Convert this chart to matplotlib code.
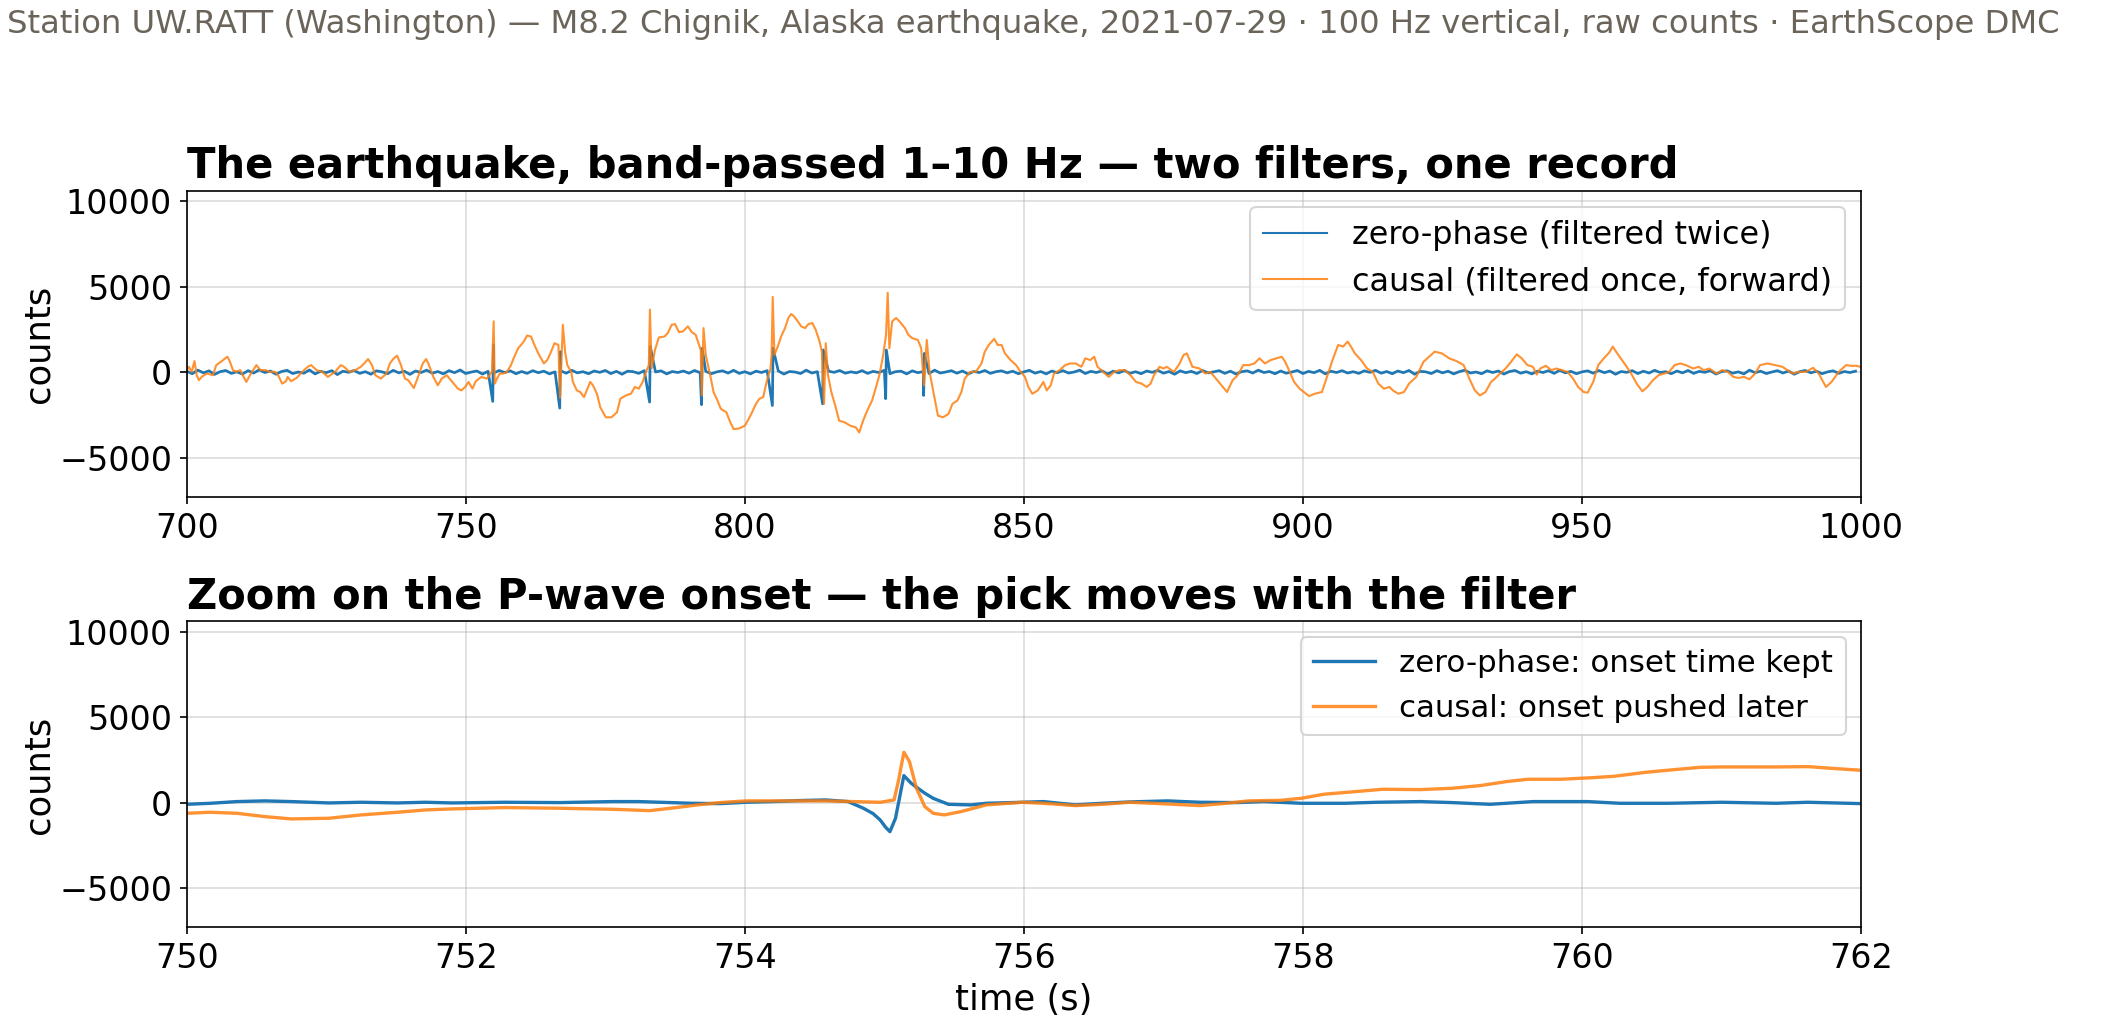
""" seismogram filter comparison: zero-phase vs causal band-pass """
import numpy as np
import matplotlib
matplotlib.use("Agg")
import matplotlib.pyplot as plt

# ---- top panel: 700-1000 s ----
causal_t = [
    700.0, 700.4, 700.9, 701.4, 701.8, 702.2, 702.7, 703.1, 703.7, 704.7,
    705.3, 706.3, 706.9, 707.3, 707.7, 708.3, 708.9, 709.6, 710.2, 710.7,
    711.5, 712.5, 713.2, 714.2, 714.8, 715.8, 716.4, 717.1, 717.8, 718.1,
    718.7, 719.7, 720.7, 721.7, 722.3, 723.3, 724.3, 725.3, 726.6, 727.6,
    728.2, 729.2, 730.2, 731.2, 731.8, 732.5, 733.2, 733.8, 734.8, 735.8,
    736.4, 737.1, 737.7, 738.4, 739.1, 739.7, 740.7, 741.3, 742.3, 742.9,
    743.3, 744.2, 745.0, 745.7, 746.6, 747.6, 748.6, 749.2, 749.9, 750.5,
    751.2, 751.8, 752.8, 753.8, 754.7, 755.0, 755.2, 755.6, 756.1, 756.7,
    757.4, 758.1, 758.7, 759.4, 760.4, 761.0, 761.7, 762.3, 763.0, 764.0,
    764.6, 765.3, 765.9, 766.6, 766.9, 767.4, 767.8, 768.2, 768.9, 769.2,
    769.9, 770.5, 771.2, 771.8, 772.3, 772.8, 773.5, 774.1, 775.1, 776.1,
    777.1, 777.7, 778.7, 779.6, 780.3, 781.0, 781.7, 782.3, 782.8, 783.0,
    783.3, 783.9, 784.6, 785.6, 786.2, 786.9, 787.5, 788.2, 788.9, 789.8,
    790.5, 791.2, 791.8, 792.1, 792.3, 792.6, 793.0, 793.8, 794.4, 795.1,
    795.7, 796.7, 797.4, 798.0, 799.0,
    800.0, 800.7, 801.3, 802.0, 802.6, 803.3, 803.9, 804.6, 804.8, 805.0,
    805.3, 805.9, 806.5, 807.2, 807.8, 808.3, 808.8, 809.5, 810.1, 810.8,
    811.4, 812.1, 812.7, 813.4, 813.8, 814.2, 814.5, 814.9, 815.5, 816.2,
    816.9, 817.9, 818.9, 819.9, 820.5, 821.2, 821.8, 822.8, 823.6, 824.1,
    824.8, 825.3, 825.6, 825.9, 826.4, 827.1, 827.7, 828.7, 829.3, 830.0,
    831.0, 831.6, 832.1, 832.6, 833.1, 833.8, 834.6, 835.5, 836.5, 837.2,
    838.1, 838.8, 839.4, 840.4, 841.4, 842.4, 843.0, 843.7, 844.7, 845.3,
    846.0, 846.6, 847.6, 848.6, 849.2, 850.2, 850.8, 851.5, 852.5, 853.5,
    854.1, 854.8, 855.4, 856.4, 857.4, 858.3, 859.3, 860.3, 861.0, 861.9,
    862.6, 863.2, 864.2, 865.2, 866.2, 867.1, 868.1, 869.1, 870.1, 871.1,
    872.0, 872.7, 873.3, 874.3, 875.0, 875.6, 876.9, 877.9, 878.6, 879.2,
    880.2, 881.5, 882.5, 883.4, 884.4, 885.4, 886.4, 887.4, 888.3, 889.3,
    890.3, 891.3, 892.2, 893.2, 894.2, 895.2, 896.2, 896.8, 897.5, 898.4,
    899.4,
    901.1, 902.1, 903.4, 904.4, 905.3, 906.3, 907.2, 908.0, 908.6, 909.3,
    910.4, 911.5, 912.5, 913.5, 914.5, 915.5, 916.1, 917.1, 918.1, 919.0,
    920.3, 921.6, 922.6, 923.6, 924.9, 926.2, 927.5, 928.8, 929.8, 930.8,
    931.7, 932.7, 933.7, 934.4, 935.3, 936.3, 937.3, 938.3, 939.2, 940.2,
    941.2, 941.9, 942.5, 943.5, 944.5, 945.4, 946.4, 947.4, 948.4, 949.3,
    950.3, 951.0, 952.0, 952.9, 953.9, 954.9, 955.5, 956.5, 957.8, 958.8,
    959.8, 960.8, 961.7, 962.7, 963.7, 964.7, 965.6, 966.6, 967.6, 968.6,
    969.9, 970.9, 971.8, 972.8, 974.1, 975.1, 976.1, 977.1, 978.0, 979.0,
    980.0, 981.0, 981.9, 983.2, 984.6, 985.9, 986.8, 987.8, 988.8, 990.1,
    991.4, 992.4, 993.7, 994.7, 996.0, 997.3, 998.2, 999.2, 1000.0,
]
causal_v = [
    120, 315, 20, 650, -180, -470, -275, -180, -80, -180,
    415, 650, 810, 905, 650, 120, 20, 120, -275, -570,
    -80, 415, 120, 120, 20, 20, -180, -670, -530, -275,
    -530, -335, 20, 315, 415, 120, 20, -275, 20, 415,
    315, 20, 120, 315, 510, 770, 415, -180, -375, -80,
    510, 810, 965, 415, -375, -470, -925, -415, 510, 770,
    510, -275, -770, -375, -180, -570, -965, -1065, -865, -570,
    -965, -530, -275, -375, 20, 2975, -670, -375, -80, -80,
    20, 415, 905, 1400, 1790, 2145, 2085, 1595, 1100, 510,
    710, 1200, 1695, 1595, -1500, 2775, 1200, 415, 20, -570,
    -1065, -1160, -1455, -965, -570, -770, -1260, -2050, -2640, -2640,
    -2345, -1555, -1360, -1260, -865, -965, -570, 20, 415, 3660,
    215, 1300, 2030, 2085, 2285, 2775, 2815, 2345, 2380, 2680,
    2345, 2185, 1595, 1300, -1360, 2580, 1005, -180, -1160, -1655,
    -2145, -2345, -2935, -3330, -3290,
    -3130, -2735, -2345, -1850, -1555, -1455, -570, 215, 1005, 4410,
    1005, 1495, 2085, 2580, 3170, 3405, 3270, 2975, 2680, 2580,
    2815, 2875, 2480, 1790, 1200, -1850, 1695, -180, -1160, -1950,
    -2835, -2935, -3130, -3230, -3525, -2835, -2345, -1655, -770, -180,
    1005, 2185, 4645, 1400, 2975, 3170, 2975, 2580, 2185, 1990,
    1890, 1400, -770, 1890, 20, -1160, -2540, -2640, -2440, -1850,
    -1655, -1160, -375, 20, 20, 510, 1200, 1595, 1950, 1595,
    1595, 1100, 710, 415, 120, -275, -865, -1260, -1065, -570,
    -1065, -770, -80, 120, 415, 510, 510, 315, 810, 710,
    905, 315, 20, -275, 20, 120, 120, -180, -570, -670,
    -865, -670, -180, 315, 215, 315, 20, 510, 1005, 1100,
    315, 215, -80, 20, -375, -770, -1160, -470, -180, 415,
    415, 510, 810, 510, 710, 810, 905, 610, 120, -570,
    -965,
    -1400, -1260, -1160, -180, 710, 1595, 1495, 1790, 1495, 1100,
    710, 215, 20, -670, -965, -865, -1065, -1260, -1160, -670,
    -275, 610, 905, 1200, 1100, 810, 650, 415, -375, -1065,
    -1360, -1160, -570, -375, -80, 215, 610, 1045, 810, 415,
    315, -140, 215, 375, 120, 215, 120, 20, -375, -865,
    -1160, -1200, -570, 415, 810, 1160, 1495, 1005, 415, -80,
    -670, -1120, -865, -470, -180, -80, 20, 415, 510, 415,
    215, 315, 120, 215, -80, 120, 20, -275, -335, -275,
    -415, -80, 415, 510, 415, 315, 120, -80, 20, 20,
    255, -80, -865, -570, 20, 415, 375, 375, 300,
]

# zero-phase trace: background wiggle, one value per second from 700 s
zero_noise = [
    60, -90, 120, -40, 80, -130, 30, 100, -70, 20, -110, 90, -50, 140, -20,
    70, -120, 40, 110, -80, 10, -60, 130, -100, 50, -30, 90, -140, 60, -10,
    100, -70, 30, -120, 80, 20, -90, 110, -40, 60, -130, 70, -20, 120, -60,
    40, -100, 90, -30, 130, -80, 10, 70, -110, 50, -50, 100, -20, 80, -90,
    40, -70, 90, -30, 60, -100, 20, 80, -60, 110, -40, 30, -90, 70, -10,
    100, -80, 50, -120, 60, 30, -70, 90, -40, 10, 80, -100, 40, -20, 70,
    -60, 100, -30, 50, -90, 20, 80, -50, 110, -70, 30, -100, 60, -20, 90,
    -40, 70, -110, 40, 10, -80, 120, -50, 30, -90, 60, -10, 100, -60, 20,
    -40, 90, -70, 50, -20, 110, -90, 30, 60, -100, 80, -30, 40, -80, 120,
    -50, 10, 90, -60, 70, -110, 40, -20, 100, -70, 30, 80, -40, 60, -90,
    20, 110, -60, 40, -100, 70, -30, 90, -50, 10, 120, -80, 50, -20, 80,
    -110, 60, -40, 100, -70, 30, -90, 70, -10, 110, -60, 40, -120, 80, -30,
    50, -80, 100, -40, 20, 90, -70, 60, -110, 30, 80, -50, 120, -20, 40,
    -90, 70, -60, 10, 100, -80, 50, -30, 110, -100, 60, -20, 90, -50, 30,
    -70, 80, -10, 110, -60, 40, -90, 70, -30, 100, -120, 50, 20, -80, 90,
    -40, 60, -100, 30, 120, -50, 10, -90, 80, -20, 70, -110, 40, 100, -60,
    30, -100, 60, -20, 90, -70, 110, -40, 50, -90, 20, 80, -60, 100, -30,
    70, -120, 40, -10, 90, -80, 60, -50, 110, -20, 30, -90, 70, -40, 100,
    -70, 50, -10, 90, -110, 40, 80, -60, 20, -100, 120, -30, 60, -80, 10,
    90, -50, 70, -120, 30, 100, -40, 60, -90, 20, 80, -70, 40, -20, 60,
]
# arrivals seen as sharp spikes on the zero-phase trace
spike_t = [754.9, 766.9, 783.0, 792.3, 805.0, 814.0, 825.3, 832.1]
spike_lo = [-1710, -2100, -1750, -1900, -1950, -1850, -1550, -1360]
spike_hi = [1600, 1200, 1500, 1400, 1400, 1300, 1300, 1100]

# ---- bottom panel: 750-762 s ----
zero_zoom_t = [
    750.00, 750.17, 750.36, 750.56, 750.75, 751.02, 751.25, 751.51, 751.71,
    751.90, 752.28, 752.67, 753.05, 753.24, 753.62, 753.82, 754.01, 754.20,
    754.39, 754.58, 754.74, 754.85, 754.92, 754.97, 755.01, 755.04, 755.08,
    755.14, 755.19, 755.23, 755.29, 755.35, 755.46, 755.62, 755.73, 755.99,
    756.14, 756.37, 756.56, 756.76, 757.03, 757.26, 757.53, 757.72, 757.99,
    758.30, 758.53, 758.84, 759.07, 759.34, 759.65, 760.04, 760.27, 760.62,
    761.00, 761.39, 761.62, 762.00,
]
zero_zoom_v = [
    -100, -40, 60, 100, 60, -20, 20, -20, 20,
    -20, 20, 0, 60, 60, -40, -60, 20, 60,
    120, 155, 60, -330, -650, -1015, -1450, -1700, -915,
    1580, 1150, 900, 550, 250, -100, -135, -40, 20,
    60, -135, -40, 40, 100, 20, 0, 60, -40,
    -40, 20, 60, 0, -100, 60, 60, -40, -40,
    20, -40, 20, -60,
]
causal_zoom_t = [
    750.00, 750.17, 750.36, 750.56, 750.75, 751.02, 751.25, 751.51, 751.71,
    751.90, 752.28, 752.67, 753.05, 753.32, 753.51, 753.66, 753.82, 754.01,
    754.20, 754.58, 754.97, 755.07, 755.10, 755.14, 755.18, 755.23, 755.29,
    755.35, 755.43, 755.55, 755.73, 755.99, 756.14, 756.37, 756.56, 756.76,
    757.03, 757.26, 757.45, 757.61, 757.84, 757.99, 758.15, 758.38, 758.57,
    758.84, 759.07, 759.27, 759.46, 759.61, 759.85, 760.08, 760.23, 760.46,
    760.69, 760.85, 761.00, 761.39, 761.62, 761.78, 762.00,
]
causal_zoom_v = [
    -625, -565, -625, -820, -955, -915, -720, -565, -430,
    -370, -290, -330, -390, -470, -290, -135, 0, 100,
    100, 100, 20, 155, 1230, 2945, 2400, 840, -235,
    -625, -720, -525, -135, 20, -40, -175, -100, 20,
    -80, -175, -40, 100, 135, 255, 490, 645, 780,
    760, 840, 995, 1230, 1365, 1365, 1460, 1540, 1775,
    1950, 2065, 2085, 2085, 2105, 2010, 1890,
]

BLUE = "#1f77b4"
ORANGE = "#ff7f0e"
SUPTITLE = ("Station UW.RATT (Washington) \u2014 M8.2 Chignik, Alaska earthquake, "
            "2021-07-29 \u00b7 100 Hz vertical, raw counts \u00b7 EarthScope DMC")


def build_zero_phase():
    """Background wiggle plus the arrival spikes, sorted in time."""
    t = list(700.0 + np.arange(len(zero_noise)))
    v = list(zero_noise)
    for ts, lo, hi in zip(spike_t, spike_lo, spike_hi):
        t += [ts - 0.06, ts + 0.06]
        v += [lo, hi]
    order = np.argsort(t)
    return np.array(t)[order], np.array(v)[order]


fig = plt.figure(figsize=(2102 / 150, 1018 / 150), dpi=150)
ax1 = fig.add_axes([0.0888, 0.5118, 0.7966, 0.3006])
ax2 = fig.add_axes([0.0888, 0.0890, 0.7966, 0.3006])

zt, zv = build_zero_phase()
ax1.plot(zt, zv, color=BLUE, lw=1.3, label="zero-phase (filtered twice)")
ax1.plot(causal_t, causal_v, color=ORANGE, lw=1.0, alpha=0.85,
         label="causal (filtered once, forward)")
ax1.set_xlim(700, 1000)
ax1.set_title("The earthquake, band-passed 1\u201310 Hz \u2014 two filters, one record",
              loc="left", fontsize=20, fontweight="bold")
leg1 = ax1.legend(loc="upper right", fontsize=15.3)
leg1.get_lines()[0].set_linewidth(1.0)

ax2.plot(zero_zoom_t, zero_zoom_v, color=BLUE, lw=1.6,
         label="zero-phase: onset time kept")
ax2.plot(causal_zoom_t, causal_zoom_v, color=ORANGE, lw=1.6, alpha=0.85,
         label="causal: onset pushed later")
ax2.set_xlim(750, 762)
ax2.set_title("Zoom on the P-wave onset \u2014 the pick moves with the filter",
              loc="left", fontsize=20, fontweight="bold")
ax2.set_xlabel("time (s)", fontsize=17)
ax2.legend(loc="upper right", fontsize=14.8)

for ax in (ax1, ax2):
    ax.set_ylim(-7300, 10600)
    ax.set_yticks([-5000, 0, 5000, 10000])
    ax.set_ylabel("counts", fontsize=17, labelpad=1.6)
    ax.tick_params(labelsize=16)
    ax.grid(True, alpha=0.45)

fig.text(0.0035, 0.976, SUPTITLE, ha="left", va="center", fontsize=15.5,
         color="#6b645a")

fig.savefig("out.png", dpi=150)
